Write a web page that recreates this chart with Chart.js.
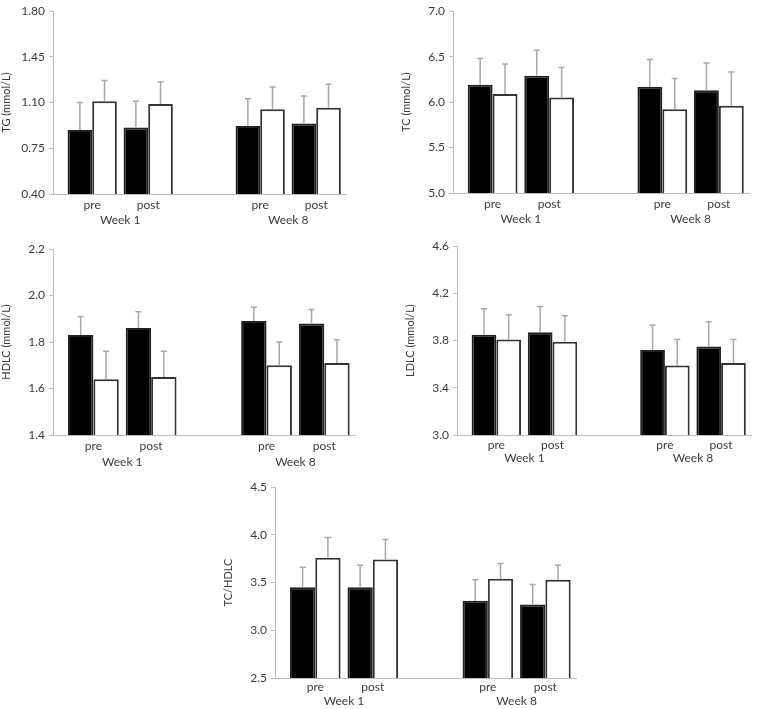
<!DOCTYPE html>
<html>
<head>
<meta charset="utf-8">
<script src="https://cdn.jsdelivr.net/npm/chart.js@4"></script>
<style>
  body { margin: 0; background: #fff; }
  #page { position: relative; width: 759px; height: 709px; }
  .panel { position: absolute; }
</style>
</head>
<body>
<div id="page">
  <div class="panel" style="left:0px;top:0px;width:347px;height:228px"><canvas id="tgChart"></canvas></div>
  <div class="panel" style="left:400px;top:0px;width:350px;height:227px"><canvas id="tcChart"></canvas></div>
  <div class="panel" style="left:0px;top:235px;width:356px;height:235px"><canvas id="hdlcChart"></canvas></div>
  <div class="panel" style="left:404px;top:235px;width:348px;height:235px"><canvas id="ldlcChart"></canvas></div>
  <div class="panel" style="left:222px;top:475px;width:355px;height:234px"><canvas id="ratioChart"></canvas></div>
</div>
<script>
Chart.defaults.font.family = "Lato, 'Open Sans', sans-serif";
Chart.defaults.color = '#3c3c3c';

// x categories, the empty one makes the gap between the weeks
var groupLabels = ['pre', 'post', '', 'pre', 'post'];
var weekLabels = ['Week 1', 'Week 8'];

// TG (mmol/L)
var tgBlack = [0.89, 0.91, null, 0.92, 0.94];
var tgBlackErr = [0.21, 0.20, null, 0.21, 0.21];
var tgWhite = [1.11, 1.09, null, 1.05, 1.06];
var tgWhiteErr = [0.16, 0.17, null, 0.17, 0.18];

// TC (mmol/L)
var tcBlack = [6.19, 6.29, null, 6.17, 6.13];
var tcBlackErr = [0.29, 0.28, null, 0.30, 0.30];
var tcWhite = [6.09, 6.05, null, 5.92, 5.96];
var tcWhiteErr = [0.33, 0.33, null, 0.34, 0.37];

// HDLC (mmol/L)
var hdlcBlack = [1.83, 1.86, null, 1.89, 1.88];
var hdlcBlackErr = [0.08, 0.07, null, 0.06, 0.06];
var hdlcWhite = [1.64, 1.65, null, 1.70, 1.71];
var hdlcWhiteErr = [0.12, 0.11, null, 0.10, 0.10];

// LDLC (mmol/L)
var ldlcBlack = [3.85, 3.87, null, 3.72, 3.75];
var ldlcBlackErr = [0.22, 0.22, null, 0.21, 0.21];
var ldlcWhite = [3.81, 3.79, null, 3.59, 3.61];
var ldlcWhiteErr = [0.21, 0.22, null, 0.22, 0.20];

// TC/HDLC
var ratioBlack = [3.45, 3.45, null, 3.31, 3.27];
var ratioBlackErr = [0.21, 0.23, null, 0.22, 0.21];
var ratioWhite = [3.76, 3.74, null, 3.54, 3.53];
var ratioWhiteErr = [0.21, 0.21, null, 0.16, 0.15];

// y ticks per panel
var tgTicks = [0.40, 0.75, 1.10, 1.45, 1.80];
var tcTicks = [5.0, 5.5, 6.0, 6.5, 7.0];
var hdlcTicks = [1.4, 1.6, 1.8, 2.0, 2.2];
var ldlcTicks = [3.0, 3.4, 3.8, 4.2, 4.6];
var ratioTicks = [2.5, 3.0, 3.5, 4.0, 4.5];

var errorBars = {
    id: 'errorBars',
    afterDatasetsDraw: function (chart) {
        var ctx = chart.ctx;
        var yScale = chart.scales.y;
        ctx.save();
        ctx.strokeStyle = '#a8a8a8';
        ctx.lineWidth = 1.5;
        chart.data.datasets.forEach(function (ds, i) {
            var meta = chart.getDatasetMeta(i);
            meta.data.forEach(function (bar, j) {
                if (ds.data[j] == null) return;
                var top = yScale.getPixelForValue(ds.data[j] + ds.errors[j]);
                ctx.beginPath();
                ctx.moveTo(bar.x, bar.y);
                ctx.lineTo(bar.x, top);
                ctx.moveTo(bar.x - 3, top);
                ctx.lineTo(bar.x + 3, top);
                ctx.stroke();
            });
        });
        ctx.restore();
    }
};

var weekText = {
    id: 'weekText',
    afterDraw: function (chart, args, opts) {
        var ctx = chart.ctx;
        var x = chart.scales.x;
        ctx.save();
        ctx.fillStyle = '#3c3c3c';
        ctx.font = "12px Lato, 'Open Sans', sans-serif";
        ctx.textAlign = 'center';
        ctx.textBaseline = 'middle';
        var mid1 = (x.getPixelForValue(0) + x.getPixelForValue(1)) / 2;
        var mid2 = (x.getPixelForValue(3) + x.getPixelForValue(4)) / 2;
        ctx.fillText(weekLabels[0], mid1, x.top + opts.offset);
        ctx.fillText(weekLabels[1], mid2, x.top + opts.offset);
        ctx.restore();
    }
};

function makePanel(id, title, black, blackErr, white, whiteErr, ticks, decimals, padTop, xHeight, tickPad, weekOffset) {
    var ctx = document.getElementById(id).getContext('2d');
    return new Chart(ctx, {
        type: 'bar',
        data: {
            labels: groupLabels,
            datasets: [{
                data: black,
                errors: blackErr,
                backgroundColor: '#000',
                borderColor: '#222',
                borderWidth: 2,
                borderSkipped: false,
                categoryPercentage: 0.88,
                barPercentage: 1.0
            }, {
                data: white,
                errors: whiteErr,
                backgroundColor: '#fff',
                borderColor: '#333',
                borderWidth: 2,
                borderSkipped: false,
                categoryPercentage: 0.88,
                barPercentage: 1.0
            }]
        },
        options: {
            responsive: true,
            maintainAspectRatio: false,
            animation: false,
            layout: { padding: { top: padTop, right: 0, left: 0, bottom: 0 } },
            plugins: {
                legend: { display: false },
                tooltip: { enabled: false },
                weekText: { offset: weekOffset }
            },
            scales: {
                x: {
                    afterBuildTicks: function (scale) {
                        // uneven spacing: pairs sit a bit wider than one slot
                        scale._startValue = -0.7;
                        scale._valueRange = 5.25;
                    },
                    afterFit: function (scale) { scale.height = xHeight; },
                    grid: { display: true, drawOnChartArea: false, drawTicks: false },
                    border: { color: '#bdbdbd', width: 1 },
                    ticks: {
                        autoSkip: false,
                        maxRotation: 0,
                        padding: tickPad,
                        color: '#3c3c3c',
                        font: { size: 12 }
                    }
                },
                y: {
                    min: ticks[0],
                    max: ticks[ticks.length - 1],
                    afterFit: function (scale) { scale.width = 53; },
                    afterBuildTicks: function (scale) {
                        scale.ticks = ticks.map(function (v) { return { value: v }; });
                    },
                    grid: { display: true, drawOnChartArea: false, drawTicks: true, tickLength: 4, color: '#bdbdbd' },
                    border: { color: '#bdbdbd', width: 1 },
                    ticks: {
                        padding: 4,
                        color: '#3c3c3c',
                        font: { size: 12 },
                        callback: function (v) { return Number(v).toFixed(decimals); }
                    },
                    title: {
                        display: true,
                        text: title,
                        color: '#3c3c3c',
                        font: { size: 11 },
                        padding: { top: 0, bottom: 2 }
                    }
                }
            }
        },
        plugins: [errorBars, weekText]
    });
}

makePanel('tgChart', 'TG (mmol/L)', tgBlack, tgBlackErr, tgWhite, tgWhiteErr, tgTicks, 2, 8, 34, 4, 26);
makePanel('tcChart', 'TC (mmol/L)', tcBlack, tcBlackErr, tcWhite, tcWhiteErr, tcTicks, 1, 9, 34, 4, 26);
makePanel('hdlcChart', 'HDLC (mmol/L)', hdlcBlack, hdlcBlackErr, hdlcWhite, hdlcWhiteErr, hdlcTicks, 1, 14, 35, 4, 27);
makePanel('ldlcChart', 'LDLC (mmol/L)', ldlcBlack, ldlcBlackErr, ldlcWhite, ldlcWhiteErr, ldlcTicks, 1, 9, 35, 3, 23);
makePanel('ratioChart', 'TC/HDLC', ratioBlack, ratioBlackErr, ratioWhite, ratioWhiteErr, ratioTicks, 1, 12, 31, 2, 23);
</script>
</body>
</html>
